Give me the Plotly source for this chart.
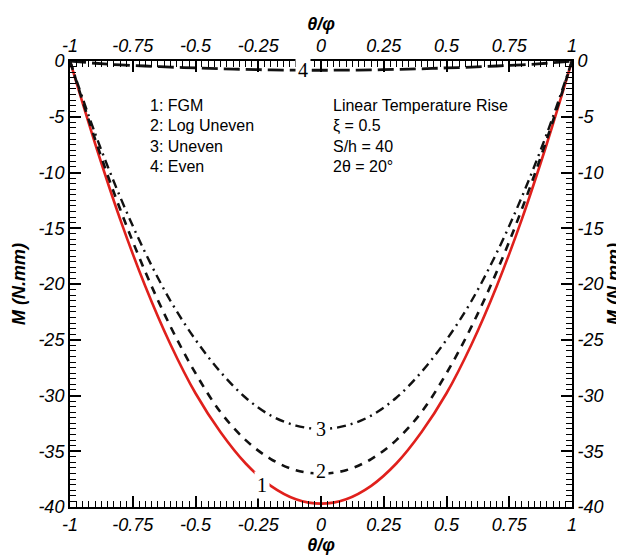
import plotly.graph_objects as go

# ---- data ----
x_vals = [-1.0, -0.9, -0.8, -0.7, -0.6, -0.5, -0.4, -0.3, -0.2, -0.1, 0.0,
          0.1, 0.2, 0.3, 0.4, 0.5, 0.6, 0.7, 0.8, 0.9, 1.0]
m_fgm = [0.0, -7.4, -14.2, -20.2, -25.4, -29.8, -33.3, -36.1, -38.1, -39.3, -39.7,
         -39.3, -38.1, -36.1, -33.3, -29.8, -25.4, -20.2, -14.2, -7.4, 0.0]
m_log_uneven = [0.0, -7.0, -13.3, -18.9, -23.8, -28.0, -31.5, -34.0, -35.7, -36.7, -37.0,
                -36.7, -35.7, -34.0, -31.5, -28.0, -23.8, -18.9, -13.3, -7.0, 0.0]
m_uneven = [0.0, -6.5, -12.2, -17.2, -21.5, -25.0, -27.9, -30.2, -31.8, -32.7, -33.0,
            -32.7, -31.8, -30.2, -27.9, -25.0, -21.5, -17.2, -12.2, -6.5, 0.0]
m_even = [0.0, -0.2, -0.35, -0.45, -0.55, -0.62, -0.7, -0.75, -0.8, -0.82, -0.83,
          -0.82, -0.8, -0.75, -0.7, -0.62, -0.55, -0.45, -0.35, -0.2, 0.0]

x_ticks = [-1, -0.75, -0.5, -0.25, 0, 0.25, 0.5, 0.75, 1]
x_tick_text = ["-1", "-0.75", "-0.5", "-0.25", "0", "0.25", "0.5", "0.75", "1"]
y_ticks = [0, -5, -10, -15, -20, -25, -30, -35, -40]
y_tick_text = ["0", "-5", "-10", "-15", "-20", "-25", "-30", "-35", "-40"]

legend_lines = ["1: FGM", "2: Log Uneven", "3: Uneven", "4: Even"]
info_lines = ["Linear Temperature Rise", "ξ = 0.5", "S/h = 40", "2θ = 20°"]
text_rows_y = [-3.95, -5.8, -7.65, -9.5]

RED = "#e0201c"
BLACK = "#111111"

fig = go.Figure()
fig.add_trace(go.Scatter(x=x_vals, y=m_fgm, mode="lines", line=dict(color=RED, width=2.6, shape="spline"), name="FGM"))
fig.add_trace(go.Scatter(x=x_vals, y=m_log_uneven, mode="lines", line=dict(color=BLACK, width=2.6, dash="8px,7px", shape="spline"), name="Log Uneven"))
fig.add_trace(go.Scatter(x=x_vals, y=m_uneven, mode="lines", line=dict(color=BLACK, width=2.4, dash="9px,5px,2px,5px", shape="spline"), name="Uneven"))
fig.add_trace(go.Scatter(x=x_vals, y=m_even, mode="lines", line=dict(color=BLACK, width=2.8, dash="16px,6px", shape="spline"), name="Even"))
# invisible trace for secondary axes
fig.add_trace(go.Scatter(x=[-1, 1], y=[-40, 0], xaxis="x2", yaxis="y2", mode="lines",
                         line=dict(width=0), opacity=0, hoverinfo="skip", showlegend=False))

tickfont = dict(family="Liberation Sans, Arial", size=18, color="black", style="italic")
titlefont = dict(family="Liberation Sans, Arial", size=18, color="black", style="italic", weight="bold")

common_x = dict(range=[-1, 1], tickvals=x_ticks, ticktext=x_tick_text, ticks="inside", ticklen=11,
                tickwidth=1.5, tickcolor="black", showline=True, linecolor="black", linewidth=2,
                showgrid=False, zeroline=False, tickfont=tickfont, automargin=False,
                minor=dict(ticks="inside", dtick=0.025, ticklen=6, tickcolor="black", tickwidth=1, showgrid=False))
common_y = dict(range=[-40, 0], tickvals=y_ticks, ticktext=y_tick_text, ticks="inside", ticklen=11,
                tickwidth=1.5, tickcolor="black", showline=True, linecolor="black", linewidth=2,
                showgrid=False, zeroline=False, tickfont=tickfont, automargin=False,
                minor=dict(ticks="inside", dtick=0.5, ticklen=6, tickcolor="black", tickwidth=1, showgrid=False))

# the page adds an 8px body margin, so the figure is 8px smaller and margins are shifted
fig.update_layout(
    width=616, height=548,
    margin=dict(l=62, r=52, t=53, b=49, autoexpand=False),
    paper_bgcolor="white", plot_bgcolor="white",
    showlegend=False,
    xaxis=dict(**common_x, side="bottom", title=dict(text="θ/φ", font=titlefont, standoff=3)),
    xaxis2=dict(**common_x, side="top", overlaying="x", anchor="y", title=dict(text="θ/φ", font=titlefont, standoff=0)),
    yaxis=dict(**common_y, side="left", title=dict(text="M (N.mm)", font=titlefont, standoff=8)),
    yaxis2=dict(**common_y, side="right", overlaying="y", anchor="x", title=dict(text="M (N.mm)", font=titlefont, standoff=1)),
)

annots = []
for txt, yy in zip(legend_lines, text_rows_y):
    annots.append(dict(x=-0.69, y=yy, xref="x", yref="y", text=txt, showarrow=False, xanchor="left",
                       font=dict(family="Liberation Sans, Arial", size=16, color="black")))
for txt, yy in zip(info_lines, text_rows_y):
    annots.append(dict(x=0.04, y=yy, xref="x", yref="y", text=txt, showarrow=False, xanchor="left",
                       font=dict(family="Liberation Sans, Arial", size=16, color="black")))

curve_labels = [("1", -0.235, -38.0), ("2", 0.0, -36.8), ("3", 0.0, -33.0), ("4", -0.07, -0.8)]
for txt, xx, yy in curve_labels:
    annots.append(dict(x=xx, y=yy, xref="x", yref="y", text=txt, showarrow=False, bgcolor="white",
                       borderpad=2, font=dict(family="Liberation Serif, Times New Roman", size=20, color="black")))
fig.update_layout(annotations=annots)

fig.write_html("out.html")
